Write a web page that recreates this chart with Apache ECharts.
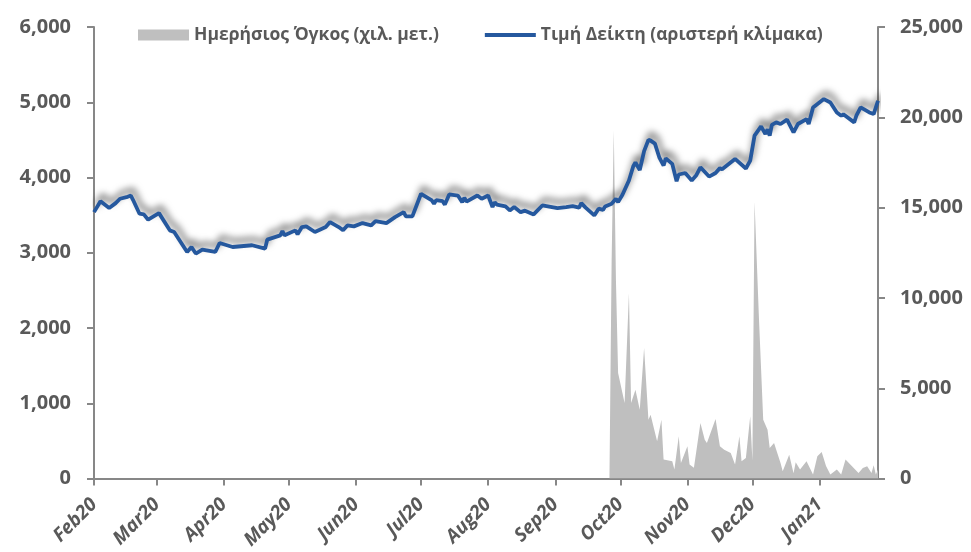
<!DOCTYPE html>
<html>
<head>
<meta charset="utf-8">
<script src="https://cdn.jsdelivr.net/npm/echarts@6/dist/echarts.min.js"></script>
<style>
  html, body { margin: 0; padding: 0; background: #fff; }
  #chart { width: 971px; height: 552px; }
</style>
</head>
<body>
<div id="chart"></div>
<script>
// index level, left scale
var lineDates = ['2020-02-01','2020-02-04','2020-02-08','2020-02-11','2020-02-13','2020-02-16','2020-02-18','2020-02-19','2020-02-22','2020-02-24','2020-02-26',
  '2020-03-02','2020-03-07','2020-03-09','2020-03-15','2020-03-17','2020-03-19','2020-03-22','2020-03-28','2020-03-30',
  '2020-04-05','2020-04-14','2020-04-20','2020-04-21','2020-04-27','2020-04-28','2020-04-29',
  '2020-05-04','2020-05-05','2020-05-07','2020-05-09','2020-05-13','2020-05-18','2020-05-20','2020-05-24','2020-05-26','2020-05-28','2020-05-31',
  '2020-06-04','2020-06-08','2020-06-10','2020-06-15','2020-06-19','2020-06-23','2020-06-24','2020-06-27',
  '2020-07-01','2020-07-06','2020-07-07','2020-07-08','2020-07-11','2020-07-12','2020-07-14','2020-07-18','2020-07-20','2020-07-21','2020-07-22','2020-07-27','2020-07-29',
  '2020-08-01','2020-08-03','2020-08-04','2020-08-05','2020-08-09','2020-08-11','2020-08-13','2020-08-16','2020-08-18','2020-08-22','2020-08-26',
  '2020-09-02','2020-09-06','2020-09-09','2020-09-12','2020-09-13','2020-09-15','2020-09-19','2020-09-21','2020-09-23','2020-09-24','2020-09-27','2020-09-29','2020-09-30',
  '2020-10-02','2020-10-05','2020-10-07','2020-10-08','2020-10-10','2020-10-12','2020-10-14','2020-10-15','2020-10-17','2020-10-19','2020-10-21','2020-10-22','2020-10-25','2020-10-27','2020-10-28','2020-10-31',
  '2020-11-03','2020-11-05','2020-11-07','2020-11-11','2020-11-14','2020-11-16','2020-11-17','2020-11-23','2020-11-28','2020-11-30',
  '2020-12-02','2020-12-05','2020-12-07','2020-12-08','2020-12-09','2020-12-10','2020-12-12','2020-12-14','2020-12-17','2020-12-20','2020-12-22','2020-12-26','2020-12-27','2020-12-29',
  '2021-01-03','2021-01-06','2021-01-09','2021-01-11','2021-01-12','2021-01-17','2021-01-18','2021-01-20','2021-01-24','2021-01-26','2021-01-28'];
var lineValues = [3540,3686,3594,3660,3718,3739,3761,3704,3519,3510,3440,
  3527,3298,3276,3011,3077,2990,3042,3011,3130,
  3077,3100,3055,3175,3232,3289,3232,
  3298,3245,3342,3351,3276,3342,3408,3342,3298,3364,3351,
  3395,3364,3421,3395,3474,3540,3483,3483,
  3784,3695,3652,3700,3686,3640,3775,3761,3673,3731,3680,3761,3718,
  3761,3607,3673,3640,3616,3563,3607,3540,3560,3510,3629,
  3594,3607,3620,3600,3660,3600,3497,3586,3570,3616,3652,3718,3673,
  3770,3960,4150,4200,4100,4350,4500,4490,4450,4269,4159,4255,4181,3950,4040,4060,
  3960,4026,4136,4013,4060,4125,4110,4247,4120,4225,
  4556,4680,4579,4640,4556,4700,4733,4711,4770,4600,4711,4777,4711,4931,
  5042,4997,4865,4821,4840,4733,4821,4931,4865,4843,5020];

// daily volume, right scale
var volDates = ['2020-09-26','2020-09-27','2020-09-28','2020-09-29','2020-09-30',
  '2020-10-03','2020-10-05','2020-10-06','2020-10-08','2020-10-10','2020-10-12','2020-10-14','2020-10-15','2020-10-18','2020-10-20','2020-10-21','2020-10-25','2020-10-26','2020-10-28','2020-10-29',
  '2020-11-01','2020-11-02','2020-11-04','2020-11-07','2020-11-09','2020-11-10','2020-11-14','2020-11-16','2020-11-18','2020-11-21','2020-11-23','2020-11-25','2020-11-26','2020-11-28','2020-11-30',
  '2020-12-01','2020-12-02','2020-12-04','2020-12-06','2020-12-08','2020-12-09','2020-12-11','2020-12-14','2020-12-15','2020-12-18','2020-12-20','2020-12-21','2020-12-23','2020-12-26','2020-12-29','2020-12-31',
  '2021-01-02','2021-01-04','2021-01-06','2021-01-09','2021-01-11','2021-01-13','2021-01-16','2021-01-19','2021-01-21','2021-01-23','2021-01-25','2021-01-26','2021-01-27','2021-01-28'];
var volValues = [0,12000,19300,11000,5842,
  4184,10264,4184,4919,3814,7224,3261,3537,2063,3261,1050,956,497,2340,866,
  1787,773,600,3077,2155,1970,3297,1787,1603,1418,773,2340,958,1142,3445,
  1000,15328,8971,3261,2709,1695,1971,866,405,1326,300,900,497,958,221,1235,
  1474,700,221,497,221,1050,682,313,590,682,313,737,221,500];

var monthTicks = ['2020-02-01','2020-03-01','2020-04-01','2020-05-01','2020-06-01','2020-07-01',
  '2020-08-01','2020-09-01','2020-10-01','2020-11-01','2020-12-01','2021-01-01'];
var monthLabels = ['Feb20','Mar20','Apr20','May20','Jun20','Jul20','Aug20','Sep20','Oct20','Nov20','Dec20','Jan21'];

var seriesNames = ['Ημερήσιος Όγκος (χιλ. μετ.)', 'Τιμή Δείκτη (αριστερή κλίμακα)'];

function toTime(d) { return +echarts.time.parse(d); }
var tickTimes = monthTicks.map(toTime);
var lineData = lineDates.map(function (d, i) { return [toTime(d), lineValues[i]]; });
var volData = volDates.map(function (d, i) { return [toTime(d), volValues[i]]; });

var gray = '#878787';
var textGray = '#595959';
var blue = '#25589E';
var labelFont = "'Open Sans', 'DejaVu Sans', sans-serif";

var chart = echarts.init(document.getElementById('chart'));
chart.setOption({
  animation: false,
  backgroundColor: '#fff',
  grid: { left: 94, right: 93, top: 27, bottom: 73 },
  legend: {
    left: 133,
    top: 21,
    itemWidth: 51,
    itemHeight: 11,
    itemGap: 44,
    textStyle: { color: textGray, fontSize: 17.5, fontWeight: 'bold', fontFamily: "'Liberation Sans Narrow', 'Open Sans', sans-serif" },
    data: [
      { name: seriesNames[0], icon: 'rect', itemStyle: { color: '#BFBFBF' } },
      { name: seriesNames[1], itemStyle: { opacity: 0 }, lineStyle: { width: 4, color: blue, shadowBlur: 0, shadowColor: 'transparent' } }
    ]
  },
  xAxis: {
    type: 'value',
    min: toTime('2020-02-01'),
    max: toTime('2021-01-28'),
    axisLine: { lineStyle: { color: gray, width: 2 } },
    axisTick: { show: true, length: 7, customValues: tickTimes, lineStyle: { color: gray, width: 2 } },
    splitLine: { show: false },
    axisLabel: {
      customValues: tickTimes,
      rotate: 45,
      margin: 23,
      color: textGray,
      fontSize: 19,
      fontStyle: 'italic',
      fontWeight: 'bold',
      fontFamily: labelFont,
      formatter: function (v) {
        var i = tickTimes.indexOf(+v);
        return i >= 0 ? monthLabels[i] : '';
      }
    }
  },
  yAxis: [
    {
      type: 'value',
      min: 0, max: 6000, interval: 1000,
      axisLine: { show: true, lineStyle: { color: gray, width: 2 } },
      axisTick: { show: true, length: 7, lineStyle: { color: gray, width: 2 } },
      splitLine: { show: false },
      axisLabel: { margin: 23, color: textGray, fontSize: 20, fontWeight: 'bold', fontFamily: labelFont }
    },
    {
      type: 'value',
      min: 0, max: 25000, interval: 5000,
      position: 'right',
      axisLine: { show: true, lineStyle: { color: gray, width: 2 } },
      axisTick: { show: true, length: 7, lineStyle: { color: gray, width: 2 } },
      splitLine: { show: false },
      axisLabel: { margin: 22, color: textGray, fontSize: 20, fontWeight: 'bold', fontFamily: labelFont }
    }
  ],
  series: [
    {
      name: seriesNames[0],
      type: 'line',
      yAxisIndex: 1,
      data: volData,
      symbol: 'none',
      color: '#BFBFBF',
      lineStyle: { width: 0 },
      areaStyle: { color: '#BFBFBF', opacity: 1 },
      z: 1
    },
    {
      name: seriesNames[1],
      type: 'line',
      yAxisIndex: 0,
      data: lineData,
      symbol: 'none',
      color: blue,
      lineStyle: {
        width: 3.8,
        color: blue,
        shadowColor: 'rgba(0,0,0,0.6)',
        shadowBlur: 7,
        shadowOffsetX: 2,
        shadowOffsetY: -6
      },
      z: 3
    }
  ]
});
</script>
</body>
</html>
